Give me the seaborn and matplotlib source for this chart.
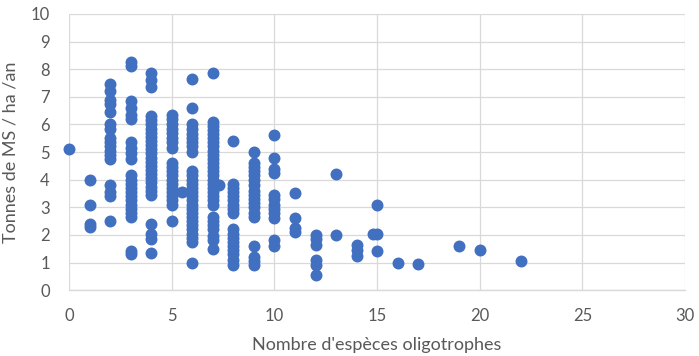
import matplotlib
matplotlib.use("Agg")
import matplotlib.pyplot as plt
import seaborn as sns
import pandas as pd

# Nombre d'espèces oligotrophes (x) and the yields observed at each value (y)
nb_especes = [0, 1, 2, 3, 4, 5, 5.5, 6, 7, 7.3, 8, 9, 10, 11, 12, 13, 14, 14.8, 15, 16, 17, 19, 20, 22]
tonnes = [
    [5.1],
    [4.0, 3.1, 2.4, 2.3],
    [7.45, 7.2, 6.9, 6.75, 6.45, 6.0, 5.85, 5.5, 5.35, 5.2, 5.05, 4.9, 4.75, 3.8, 3.55, 3.4, 2.5],
    [8.25, 8.1, 6.85, 6.6, 6.35, 6.2, 5.35, 5.15, 4.95, 4.75, 4.15, 4.0, 3.85, 3.7, 3.55, 3.4,
     3.25, 3.1, 2.95, 2.8, 2.65, 1.4, 1.3],
    [7.85, 7.6, 7.35, 6.3, 6.15, 6.0, 5.85, 5.7, 5.55, 5.4, 5.25, 5.1, 4.95, 4.8, 4.65, 4.5,
     4.35, 4.2, 4.05, 3.9, 3.75, 3.6, 3.45, 2.4, 2.05, 1.85, 1.35],
    [6.35, 6.2, 6.0, 5.85, 5.7, 5.5, 5.35, 5.15, 4.6, 4.45, 4.3, 4.15, 4.0, 3.85, 3.7, 3.55,
     3.4, 3.25, 3.1, 2.5],
    [3.55],
    [7.65, 6.6, 6.0, 5.85, 5.65, 5.5, 5.35, 5.2, 5.0, 4.3, 4.15, 4.0, 3.85, 3.7, 3.55, 3.4,
     3.25, 3.1, 2.95, 2.8, 2.65, 2.5, 2.35, 2.2, 2.05, 1.9, 1.75, 1.0],
    [7.85, 6.1, 5.95, 5.8, 5.65, 5.5, 5.35, 5.2, 5.05, 4.9, 4.75, 4.6, 4.45, 4.3, 4.15, 4.0,
     3.85, 3.7, 3.55, 3.4, 3.25, 3.1, 2.65, 2.5, 2.35, 2.2, 1.95, 1.8, 1.5],
    [3.8],
    [5.4, 3.85, 3.7, 3.55, 3.4, 3.25, 3.1, 2.95, 2.8, 2.2, 2.05, 1.9, 1.75, 1.6, 1.45, 1.3, 1.1, 0.9],
    [5.0, 4.6, 4.45, 4.3, 4.15, 4.0, 3.8, 3.6, 3.45, 3.3, 3.15, 3.0, 2.8, 2.65, 1.6, 1.2, 1.05, 0.9],
    [5.6, 4.8, 4.4, 4.25, 3.45, 3.3, 3.1, 2.95, 2.8, 2.6, 1.8, 1.6],
    [3.5, 2.6, 2.25, 2.1],
    [2.0, 1.85, 1.65, 1.1, 0.9, 0.55],
    [4.2, 2.0],
    [1.65, 1.45, 1.25],
    [2.05],
    [3.1, 2.05, 1.4],
    [1.0],
    [0.95],
    [1.6],
    [1.45],
    [1.05],
]

x_ticks = [0, 5, 10, 15, 20, 25, 30]
y_ticks = list(range(0, 11))
x_label = "Nombre d'espèces oligotrophes"
y_label = "Tonnes de MS / ha /an"

rows = [(x, y) for x, ys in zip(nb_especes, tonnes) for y in ys]
df = pd.DataFrame(rows, columns=["x", "y"])

sns.set_theme(style="white")
plt.rcParams["font.family"] = ["Lato", "DejaVu Sans"]

fig = plt.figure(figsize=(6.99, 3.56), dpi=100)
ax = fig.add_axes([0.099, 0.185, 0.881, 0.776])

sns.scatterplot(data=df, x="x", y="y", ax=ax, color="#4270C0", s=74,
                edgecolor="#4270C0", linewidth=0, zorder=3, legend=False,
                clip_on=False)

ax.set_xlim(0, 30)
ax.set_ylim(0, 10)
ax.set_xticks(x_ticks)
ax.set_yticks(y_ticks)
ax.grid(True, color="#D9D9D9", linewidth=0.9, zorder=0)
ax.set_axisbelow(True)
for side in ["top", "right", "left"]:
    ax.spines[side].set_visible(False)
ax.spines["bottom"].set_color("#D9D9D9")
ax.spines["bottom"].set_linewidth(1.0)
ax.tick_params(axis="x", length=0, labelsize=12, labelcolor="#595959", pad=13)
ax.tick_params(axis="y", length=0, labelsize=12, labelcolor="#595959", pad=14)
ax.set_xlabel(x_label, fontsize=13, color="#595959", labelpad=9)
ax.set_ylabel(y_label, fontsize=13, color="#595959", labelpad=9)

fig.savefig("out.png", dpi=100)
